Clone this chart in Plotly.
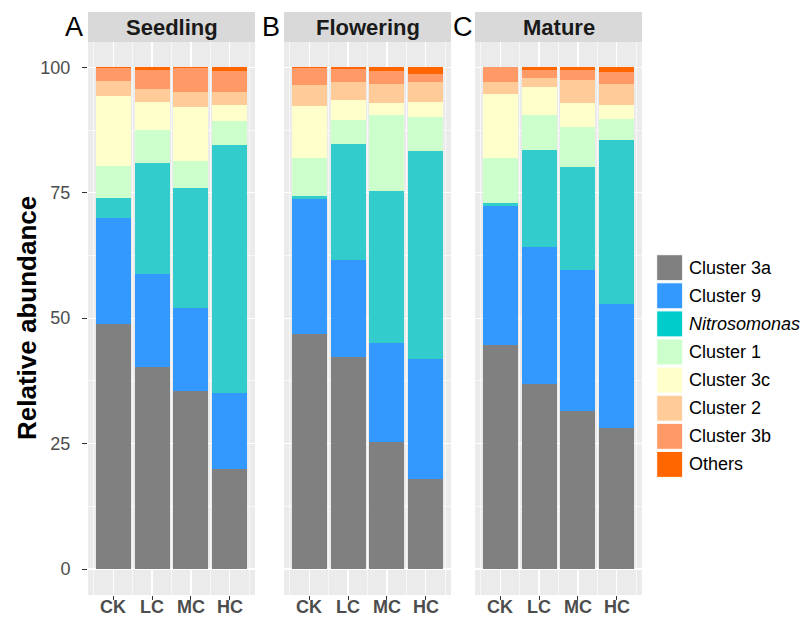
import plotly.graph_objects as go

W, H = 807, 622
OFF = 0  # body margin removed by post_script below
FW, FH = W - 2 * OFF, H - 2 * OFF

stages = ["Seedling", "Flowering", "Mature"]
panel_letters = ["A", "B", "C"]
groups = ["CK", "LC", "MC", "HC"]
series_names = ["Cluster 3a", "Cluster 9", "<i>Nitrosomonas</i>", "Cluster 1",
                "Cluster 3c", "Cluster 2", "Cluster 3b", "Others"]
bar_colors = ["#808080", "#3399FF", "#33CCCC", "#CCFFCC",
              "#FFFFCC", "#FFCC99", "#FF9966", "#FF6600"]
key_colors = ["#808080", "#3399FF", "#00CCCC", "#CCFFCC",
              "#FFFFCC", "#FFCC99", "#FF9966", "#FF6600"]

# values ordered: Seedling CK,LC,MC,HC | Flowering CK,LC,MC,HC | Mature CK,LC,MC,HC
cluster_3a   = [48.9, 40.2, 35.4, 19.9,  46.9, 42.2, 25.4, 18.0,  44.6, 36.9, 31.5, 28.2]
cluster_9    = [21.1, 18.7, 16.7, 15.2,  26.9, 19.4, 19.7, 23.8,  27.7, 27.3, 28.1, 24.6]
nitrosomonas = [ 4.0, 22.0, 23.9, 49.4,   0.6, 23.1, 30.2, 41.6,   0.6, 19.3, 20.5, 32.7]
cluster_1    = [ 6.3,  6.6,  5.3,  4.7,   7.5,  4.8, 15.1,  6.6,   9.0,  6.9,  7.9,  4.1]
cluster_3c   = [14.0,  5.5, 10.8,  3.2,  10.3,  3.9,  2.4,  3.1,  12.7,  5.7,  4.8,  2.8]
cluster_2    = [ 3.0,  2.6,  3.0,  2.7,   4.2,  3.6,  3.9,  3.9,   2.4,  1.7,  4.7,  4.2]
cluster_3b   = [ 2.6,  3.8,  4.8,  4.2,   3.5,  2.7,  2.6,  1.7,   3.0,  1.7,  2.0,  2.5]
others       = [ 0.1,  0.6,  0.1,  0.7,   0.1,  0.3,  0.7,  1.3,   0.0,  0.5,  0.5,  0.9]

series_values = [cluster_3a, cluster_9, nitrosomonas, cluster_1,
                 cluster_3c, cluster_2, cluster_3b, others]

y_ticks = [0, 25, 50, 75, 100]


def fx(px):
    return (px - OFF) / FW


def fy(py):
    return 1 - (py - OFF) / FH


panel_px = [(88, 255), (284, 451), (475, 642)]
panel_top, panel_bottom = 42, 595
strip_top = 12
letter_x = [74, 271, 463]

xpos = list(range(1, len(groups) + 1))

fig = go.Figure()
n = len(groups)
for si, stage in enumerate(stages):
    xa = "x" if si == 0 else f"x{si+1}"
    ya = "y" if si == 0 else f"y{si+1}"
    for k, name in enumerate(series_names):
        vals = series_values[k][si * n:(si + 1) * n]
        fig.add_trace(go.Bar(
            x=xpos, y=vals, name=name, width=0.9,
            marker=dict(color=bar_colors[k], line=dict(width=0)),
            xaxis=xa, yaxis=ya, showlegend=False,
        ))

layout = dict(
    width=FW, height=FH, barmode="stack", autosize=False,
    margin=dict(l=0, r=0, t=0, b=0, pad=0, autoexpand=False),
    paper_bgcolor="white", plot_bgcolor="#EBEBEB",
    font=dict(family="Liberation Sans, Arial, sans-serif", color="#000000"),
    showlegend=False,
)

for si in range(3):
    x0, x1 = panel_px[si]
    xk = "xaxis" if si == 0 else f"xaxis{si+1}"
    yk = "yaxis" if si == 0 else f"yaxis{si+1}"
    layout[xk] = dict(
        domain=[fx(x0), fx(x1)], range=[0.355, 4.645], automargin=False,
        anchor="y" if si == 0 else f"y{si+1}",
        tickmode="array", tickvals=xpos, showticklabels=False,
        ticks="outside", ticklen=4, tickwidth=1, tickcolor="#333333",
        showgrid=True, gridcolor="white", gridwidth=1.1,
        minor=dict(tickmode="array", tickvals=[0.5, 1.5, 2.5, 3.5, 4.5],
                   showgrid=True, gridcolor="white", gridwidth=0.6, ticks=""),
        zeroline=False, showline=False, fixedrange=True,
    )
    layout[yk] = dict(
        domain=[fy(panel_bottom), fy(panel_top)], range=[-5.18, 105.04], automargin=False,
        anchor="x" if si == 0 else f"x{si+1}",
        tickmode="array", tickvals=y_ticks,
        showticklabels=(si == 0),
        ticks="outside" if si == 0 else "", ticklen=5, tickwidth=1, tickcolor="#333333",
        tickfont=dict(size=18, color="#4D4D4D"), ticklabelstandoff=8,
        showgrid=True, gridcolor="white", gridwidth=1.1,
        minor=dict(tickmode="array", tickvals=[12.5, 37.5, 62.5, 87.5],
                   showgrid=True, gridcolor="white", gridwidth=0.6, ticks=""),
        zeroline=False, showline=False, fixedrange=True,
    )

shapes = []
annotations = []
for si, stage in enumerate(stages):
    x0, x1 = panel_px[si]
    xref = "x" if si == 0 else f"x{si+1}"
    shapes.append(dict(type="rect", xref="paper", yref="paper",
                       x0=fx(x0), x1=fx(x1), y0=fy(panel_top), y1=fy(strip_top),
                       fillcolor="#D9D9D9", line=dict(width=0), layer="below"))
    annotations.append(dict(text=f"<b>{stage}</b>", xref="paper", yref="paper",
                            x=fx((x0 + x1) / 2), y=fy((strip_top + panel_top) / 2 + 1),
                            xanchor="center", yanchor="middle", showarrow=False,
                            font=dict(size=22, color="#1A1A1A")))
    annotations.append(dict(text=panel_letters[si], xref="paper", yref="paper",
                            x=fx(letter_x[si]), y=fy(27), xanchor="center", yanchor="middle",
                            showarrow=False, font=dict(size=27, color="#000000")))
    # x tick labels (category names) placed on each panel's x scale
    for gx, g in zip(xpos, groups):
        annotations.append(dict(text=f"<b>{g}</b>", xref=xref, yref="paper",
                                x=gx, y=fy(607), xanchor="center", yanchor="middle",
                                showarrow=False, font=dict(size=18, color="#4D4D4D")))

annotations.append(dict(text="<b>Relative abundance</b>", xref="paper", yref="paper",
                        x=fx(27), y=fy(318), xanchor="center", yanchor="middle",
                        textangle=-90, showarrow=False,
                        font=dict(size=26, color="#000000")))

# legend drawn manually
key_x0, key_size, key_top, key_step = 656.7, 26, 254.7, 28.1
for k, name in enumerate(series_names):
    t = key_top + k * key_step
    shapes.append(dict(type="rect", xref="paper", yref="paper",
                       x0=fx(key_x0), x1=fx(key_x0 + key_size),
                       y0=fy(t + key_size), y1=fy(t),
                       fillcolor=key_colors[k], line=dict(color="white", width=1)))
    annotations.append(dict(text=name, xref="paper", yref="paper",
                            x=fx(687), y=fy(t + key_size / 2), xanchor="left", yanchor="middle",
                            showarrow=False, font=dict(size=18, color="#000000")))

layout["shapes"] = shapes
layout["annotations"] = annotations
fig.update_layout(**layout)
fig.write_html("out.html",
               config={"displayModeBar": False, "staticPlot": True},
               post_script="document.body.style.margin='0';document.body.style.overflow='hidden';")
